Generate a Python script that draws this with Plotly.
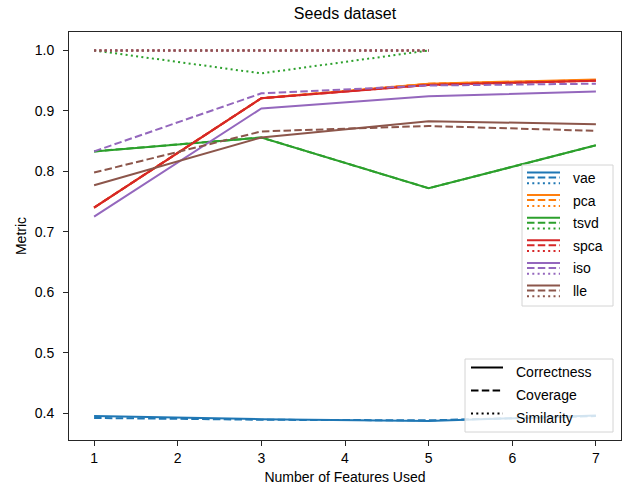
import plotly.graph_objects as go

# ---- data -------------------------------------------------------------
features = [1, 3, 5, 7]
features_sim = [1, 3, 5]
methods = ["vae", "pca", "tsvd", "spca", "iso", "lle"]
colors = ["#1f77b4", "#ff7f0e", "#2ca02c", "#d62728", "#9467bd", "#8c564b"]

correctness = {
    "vae":  [0.395, 0.390, 0.387, 0.396],
    "pca":  [0.740, 0.921, 0.945, 0.952],
    "tsvd": [0.833, 0.856, 0.772, 0.843],
    "spca": [0.740, 0.921, 0.943, 0.950],
    "iso":  [0.725, 0.904, 0.924, 0.932],
    "lle":  [0.777, 0.856, 0.883, 0.878],
}
coverage = {
    "vae":  [0.392, 0.389, 0.388, 0.395],
    "pca":  [0.740, 0.921, 0.945, 0.951],
    "tsvd": [0.833, 0.856, 0.772, 0.843],
    "spca": [0.740, 0.921, 0.943, 0.950],
    "iso":  [0.833, 0.929, 0.942, 0.945],
    "lle":  [0.798, 0.866, 0.875, 0.867],
}
similarity = {
    "vae":  [1.0, 1.0, 1.0],
    "pca":  [1.0, 1.0, 1.0],
    "tsvd": [1.0, 0.962, 1.0],
    "spca": [1.0, 1.0, 1.0],
    "iso":  [1.0, 1.0, 1.0],
    "lle":  [1.0, 1.0, 1.0],
}
metric_names = ["Correctness", "Coverage", "Similarity"]

# ---- styling ----------------------------------------------------------
W, H = 626, 490
L, R, T, B = 69, 5, 32, 50
FONT = "Liberation Sans, Arial, Helvetica, sans-serif"
LW = 2
DASH = "7.5px,3.3px"
DOT = "2px,3.3px"
styles = ["solid", DASH, DOT]

fig = go.Figure()
for m, c in zip(methods, colors):
    fig.add_trace(go.Scatter(x=features, y=correctness[m], mode="lines",
                             line=dict(color=c, width=LW), showlegend=False))
    fig.add_trace(go.Scatter(x=features, y=coverage[m], mode="lines",
                             line=dict(color=c, width=LW, dash=DASH), showlegend=False))
    fig.add_trace(go.Scatter(x=features_sim, y=similarity[m], mode="lines",
                             line=dict(color=c, width=LW, dash=DOT), showlegend=False))

# ---- hand-built legends (pixel layout -> paper coords) ----------------
pw, ph = W - L - R, H - T - B


def px(x):
    return (x - L) / pw


def py(y):
    return (H - B - y) / ph


shapes = []
annotations = []


def legend_box(x0, y0, x1, y1):
    shapes.append(dict(type="rect", xref="paper", yref="paper",
                       x0=px(x0), x1=px(x1), y0=py(y1), y1=py(y0),
                       fillcolor="rgba(255,255,255,0.8)",
                       line=dict(color="#d4d4d4", width=1), layer="above"))


def handle(x0, x1, y, color, dash):
    shapes.append(dict(type="line", xref="paper", yref="paper",
                       x0=px(x0), x1=px(x1), y0=py(y), y1=py(y),
                       line=dict(color=color, width=LW, dash=dash), layer="above"))


def label(x, y, text):
    annotations.append(dict(xref="paper", yref="paper", x=px(x), y=py(y),
                            text=text, showarrow=False, xanchor="left",
                            yanchor="middle", font=dict(family=FONT, size=14, color="#000")))


# method legend: each handle shows all three line styles in the method colour
legend_box(522, 165, 613, 306)
for i, (m, c) in enumerate(zip(methods, colors)):
    yc = 178 + i * 22.6
    for off, st in zip([-5.5, -0.5, 5.3], styles):
        handle(527, 560, yc + off, c, st)
    label(571, yc, m)

# metric legend: line style per metric
legend_box(465, 359, 613, 432)
for i, (name, st) in enumerate(zip(metric_names, styles)):
    yc = 372 + i * 23
    handle(471, 503, yc - 4.5, "#000", st)
    label(514, yc, name)

axis_common = dict(showline=True, linecolor="#262626", linewidth=1, mirror=True,
                   ticks="outside", ticklen=5, tickwidth=1, tickcolor="#262626",
                   showgrid=False, zeroline=False,
                   tickfont=dict(family=FONT, size=14, color="#000"))

fig.update_layout(
    width=W, height=H,
    margin=dict(l=L, r=R, t=T, b=B),
    paper_bgcolor="white", plot_bgcolor="white",
    font=dict(family=FONT, size=14, color="#000"),
    title=dict(text="Seeds dataset", x=(L + pw / 2) / W,
               xanchor="center", y=1 - 13 / H, yanchor="middle",
               font=dict(family=FONT, size=16, color="#000")),
    xaxis=dict(range=[0.7, 7.3], tickvals=[1, 2, 3, 4, 5, 6, 7],
               title=dict(text="Number of Features Used", standoff=7,
                          font=dict(family=FONT, size=14)),
               **axis_common),
    yaxis=dict(range=[0.3555, 1.0305], tickvals=[0.4, 0.5, 0.6, 0.7, 0.8, 0.9, 1.0],
               tickformat=".1f", ticklabelstandoff=6,
               title=dict(text="Metric", standoff=4, font=dict(family=FONT, size=14)),
               **axis_common),
    shapes=shapes,
    annotations=annotations,
)

fig.write_html("out.html")
